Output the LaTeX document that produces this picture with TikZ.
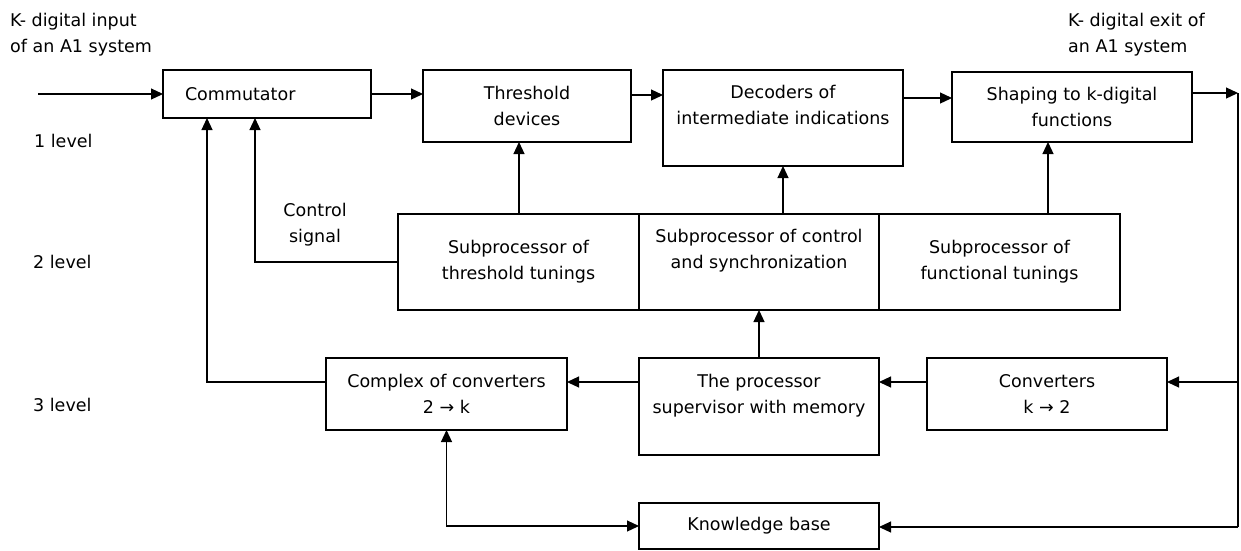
\documentclass[tikz,border=0pt]{standalone}
\usepackage{fontspec}
\setmainfont{DejaVu Sans}
\usepackage{tikz}
\usetikzlibrary{arrows.meta, positioning, calc}

\begin{document}
\begin{tikzpicture}[
				x=1pt, y=-1pt,
				node distance=48pt,
				% Defining node styles
				every node/.style={font=\fontsize{17.5}{26}\selectfont},
				block/.style={rectangle, draw=black, line width=1.2pt, align=center, inner sep=0pt, outer sep=0pt, minimum width=240pt, minimum height=72pt},
				connector/.style={-{Triangle[length=12pt, width=11pt]}, line width=1.2pt, draw=black},
				twoway/.style={{Triangle[length=12pt, width=11pt]}-{Triangle[length=12pt, width=11pt]}, line width=1.2pt, draw=black},
				wire/.style={line width=1.2pt, draw=black},
				note/.style={align=left, inner sep=0pt}
			]
			\useasboundingbox (0,0) rectangle (1241,550);

			% Placing level 1 nodes
			\node[block, minimum width=208pt, minimum height=48pt, align=left, text width=164pt, inner xsep=22pt] (comm) at (267,94) {Commutator};
			\node[block, minimum width=208pt] (thr) at (527,106) {Threshold\\devices};
			\node[block, minimum height=96pt] (dec) at (783,118) {Decoders of\\intermediate indications\\\mbox{}};
			\node[block, minimum height=70pt] (shp) at (1072,107) {Shaping to k-digital\\functions};

			% Placing level 2 nodes
			\node[block, minimum height=96pt] (subctl) at (759,262) {Subprocessor of control\\and synchronization\\\mbox{}};
			\node[block, minimum width=241pt, minimum height=96pt, left=0pt of subctl] (subthr) {Subprocessor of\\threshold tunings};
			\node[block, minimum width=241pt, minimum height=96pt, right=0pt of subctl] (subfun) {Subprocessor of\\functional tunings};

			% Placing level 3 nodes
			\node[block, minimum height=97pt, below=of subctl] (proc) {The processor\\supervisor with memory\\\mbox{}};
			\node[block, minimum width=241pt, anchor=north east] (comp) at ([xshift=-72pt]proc.north west) {Complex of converters\\2 → k};
			\node[block, anchor=north west] (conv) at ([xshift=48pt]proc.north east) {Converters\\k → 2};
			\node[block, minimum height=46pt, below=of proc] (kb) {Knowledge base};

			% Helper coordinates
			\coordinate (inp) at (38,94);
			\coordinate (exit) at (1238,93);
			\coordinate (exitlow) at (1238,527);
			\coordinate (row3) at (0,382);

			% Adding texts and level labels
			\node[note, anchor=north west] (intxt) at (10,13) {K- digital input\\of an A1 system};
			\node[note, anchor=north west] (outtxt) at (1068,13) {K- digital exit of\\an A1 system};
			\node[note, align=center] (ctltxt) at (315,225) {Control\\signal};
			\node[note, anchor=west] (lv1) at (34,141) {1 level};
			\node[note, anchor=west] (lv2) at (33,262) {2 level};
			\node[note, anchor=west] (lv3) at (33,405) {3 level};

			% Drawing level 1 connections
			\draw[connector] (inp) -- (comm.west);
			\draw[connector] (comm.east) -- (comm.east -| thr.west);
			\draw[connector] ([yshift=11pt]thr.east) -- ([yshift=11pt]thr.east -| dec.west);
			\draw[connector] ([yshift=20pt]dec.east) -- ([yshift=20pt]dec.east -| shp.west);
			\draw[connector] (exit -| shp.east) -- (exit);
			\draw[wire] (exit) -- (exitlow);

			% Drawing upward connections
			\draw[connector] ([xshift=0.5pt]subthr.north) -- ([xshift=0.5pt]subthr.north |- thr.south);
			\draw[connector] (dec.south |- subctl.north) -- (dec.south);
			\draw[connector] ([xshift=-24pt]shp.south |- subfun.north) -- ([xshift=-24pt]shp.south);
			\draw[connector] (proc.north) -- (proc.north |- subctl.south);

			% Drawing level 3 connections
			\draw[connector] (exit |- row3) -- (conv.east |- row3);
			\draw[connector] (conv.west |- row3) -- (proc.east |- row3);
			\draw[connector] (proc.west |- row3) -- (comp.east |- row3);
			\draw[connector] (exitlow) -- (exitlow -| kb.east);
			\draw[twoway] (comp.south) |- (kb.west);

			% Drawing feedback to the commutator
			\draw[connector] (comp.west |- row3) -| ([xshift=-60pt]comm.south);
			\draw[connector] (subthr.west) -| ([xshift=-12pt]comm.south);

		\end{tikzpicture}
\end{document}
